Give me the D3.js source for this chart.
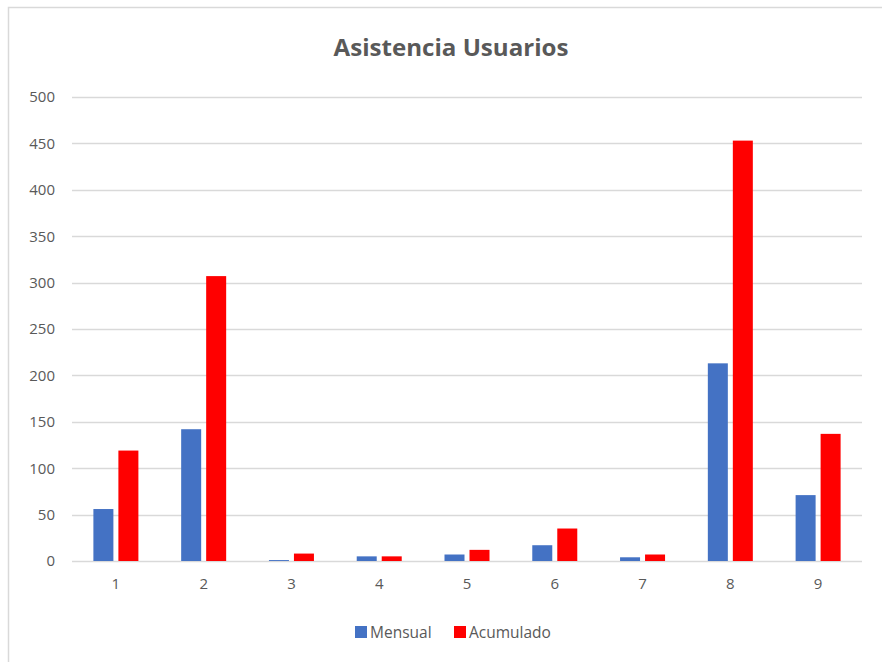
<!DOCTYPE html>
<html><head><meta charset="utf-8">
<script src="https://cdn.jsdelivr.net/npm/d3@7"></script>
<style>html,body{margin:0;padding:0;background:#fff;}</style>
</head><body>
<svg id="c" width="882" height="662"></svg>
<script>
const categories = ["1","2","3","4","5","6","7","8","9"];
const mensual = [56, 142, 1, 5, 7, 17, 4, 213, 71];
const acumulado = [119, 307, 8, 5, 12, 35, 7, 453, 137];
const yTicks = [0, 50, 100, 150, 200, 250, 300, 350, 400, 450, 500];
const seriesNames = ["Mensual", "Acumulado"];
const colors = ["#4472C4", "#FF0000"];

(function () {
const svg = d3.select("#c");
const font = "'Open Sans', sans-serif";
const textColor = "#595959";

// outer border
svg.append("rect").attr("x", 8.5).attr("y", 7.5).attr("width", 900).attr("height", 700)
  .attr("fill", "#fff").attr("stroke", "#d9d9d9").attr("stroke-width", 1.5);

const pLeft = 72, pRight = 862, pTop = 97, pBottom = 561;
const x = d3.scaleBand().domain(categories).range([pLeft, pRight]).paddingInner(0).paddingOuter(0);
const y = d3.scaleLinear().domain([0, 500]).range([pBottom, pTop]);

// grid
svg.append("g").selectAll("line").data(yTicks).join("line")
  .attr("x1", pLeft).attr("x2", pRight)
  .attr("y1", d => Math.round(y(d)) + 0.5).attr("y2", d => Math.round(y(d)) + 0.5)
  .attr("stroke", "#d9d9d9").attr("stroke-width", 1.5);

// y axis labels
const yAxis = d3.axisLeft(y).tickValues(yTicks).tickSize(0).tickPadding(0);
const gy = svg.append("g").attr("transform", `translate(55,0)`).call(yAxis);
gy.select(".domain").remove();
gy.selectAll("text").attr("font-family", font).attr("font-size", 15).attr("fill", textColor);

// x axis labels
const xAxis = d3.axisBottom(x).tickSize(0).tickPadding(0);
const gx = svg.append("g").attr("transform", `translate(0,${pBottom + 17})`).call(xAxis);
gx.select(".domain").remove();
gx.selectAll("text").attr("font-family", font).attr("font-size", 15).attr("fill", textColor);

// bars
const barW = 20, gap = 5;
const xs = d3.scaleBand().domain([0, 1]).range([0, barW * 2 + gap]).paddingInner(gap / (barW + gap));
const data = [mensual, acumulado];
data.forEach((vals, si) => {
  svg.append("g").selectAll("rect").data(vals).join("rect")
    .attr("x", (d, i) => x(categories[i]) + x.bandwidth() / 2 - (barW * 2 + gap) / 2 + xs(si))
    .attr("width", xs.bandwidth())
    .attr("y", d => y(d))
    .attr("height", d => y(0) - y(d))
    .attr("fill", colors[si]);
});

// title
svg.append("text").attr("x", 451).attr("y", 56).attr("text-anchor", "middle")
  .attr("font-family", font).attr("font-weight", "bold").attr("font-size", 24)
  .attr("textLength", 235).attr("lengthAdjust", "spacingAndGlyphs")
  .attr("fill", textColor).text("Asistencia Usuarios");

// legend
const legendItems = [{name: seriesNames[0], x: 355}, {name: seriesNames[1], x: 454}];
legendItems.forEach((it, i) => {
  svg.append("rect").attr("x", it.x).attr("y", 626).attr("width", 12).attr("height", 12).attr("fill", colors[i]);
  svg.append("text").attr("x", it.x + 15).attr("y", 638).attr("font-family", font)
    .attr("font-size", 15.5).attr("fill", textColor).text(it.name);
});
})();
</script>
</body></html>
